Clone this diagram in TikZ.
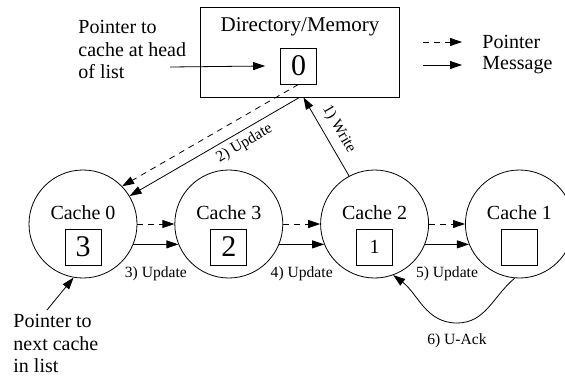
\documentclass[tikz,border=0pt]{standalone}
\usepackage{fontspec}
\setmainfont{Liberation Serif}
\usetikzlibrary{arrows.meta, positioning}

\begin{document}
\begin{tikzpicture}[x=0.5pt, y=-0.5pt]
    % Define styles for the nodes
    \tikzstyle{cache} = [circle, draw, minimum size=54pt, inner sep=0]
    \tikzstyle{slot} = [
        rectangle, draw, minimum width=18pt, minimum height=18pt,
        inner sep=0, font=\fontsize{15}{17}\selectfont
    ]
    \tikzstyle{txt} = [inner sep=0, font=\fontsize{10}{11.3}\selectfont]
    \tikzstyle{lbl} = [inner sep=1pt, font=\fontsize{7.8}{9}\selectfont]

    \tikzstyle{msg} = [-{Triangle[length=6pt, width=4pt]}]
    \tikzstyle{ptr} = [msg, dash pattern=on 3pt off 2.5pt]

    \useasboundingbox (0,0) rectangle (565,375);

    % Directory
    \node[draw, minimum width=99.5pt, minimum height=45pt] (dir) at (299.5,52) {};
    \node[txt, font=\fontsize{10.5}{12}\selectfont] (dir_name) at (300,27) {Directory/Memory};
    \node[slot] (head) at (298.5,66) {0};

    \node[txt, align=left, anchor=north west] (head_txt) at (78,20)
        {Pointer to\\cache at head\\of list};
    \coordinate (head_tail) at (170,67);

    % Legend
    \coordinate (leg_p) at (423,42);
    \coordinate (leg_m) at (423,65);
    \node[txt, anchor=west] (leg_ptr) at (482,42) {Pointer};
    \node[txt, anchor=west] (leg_msg) at (482,65) {Message};

    % Caches
    \node[cache]                     (c0) at (83,224) {};
    \node[cache, right=18.5pt of c0] (c3)             {};
    \node[cache, right=18.5pt of c3] (c2)             {};
    \node[cache, right=18pt of c2]   (c1)             {};

    \node[txt, yshift=5.5pt] (c0_name) at (c0.center) {Cache 0};
    \node[txt, yshift=5.5pt] (c3_name) at (c3.center) {Cache 3};
    \node[txt, yshift=5.5pt] (c2_name) at (c2.center) {Cache 2};
    \node[txt, yshift=5.5pt] (c1_name) at (c1.center) {Cache 1};

    \node[slot, yshift=-11.5pt] (s0) at (c0.center) {3};
    \node[slot, yshift=-11.5pt] (s3) at (c3.center) {2};
    \node[slot, yshift=-11.5pt, font=\fontsize{10}{12}\selectfont] (s2) at (c2.center) {1};
    \node[slot, yshift=-11.5pt] (s1) at (c1.center) {};

    \node[txt, align=left, anchor=north west] (next_txt) at (13,314)
        {Pointer to\\next cache\\in list};
    \coordinate (next_tail) at (47,310);

    \coordinate (ack_low) at (457,323);

    % Legend arrows
    \draw[ptr] (leg_p) -- ([xshift=-10pt]leg_ptr.west);
    \draw[msg] (leg_m) -- ([xshift=-10pt]leg_msg.west);

    % Head pointer
    \draw[msg] (head_tail) -- ([xshift=-7.5pt]head.west);

    % 1) Write
    \draw[msg] (c2.118) -- ([xshift=2pt]dir.south)
        node[lbl, midway, sloped, above, inner sep=3.5pt] {1) Write};

    % 2) Update
    \draw[ptr] (head.south) -- (c0.44);
    \draw[msg] (dir.south) -- (c0.31)
        node[lbl, pos=0.36, sloped, below, inner sep=2.4pt] {2) Update};

    % 3) Update
    \draw[ptr] (c0.0) -- (c3.180);
    \draw[msg] (c0.-22) -- (c3.-158) node[lbl, midway, below=10pt] {3) Update};

    % 4) Update
    \draw[ptr] (c3.0) -- (c2.180);
    \draw[msg] (c3.-22) -- (c2.-158) node[lbl, midway, below=10pt] {4) Update};

    % 5) Update
    \draw[ptr] (c2.0) -- (c1.180);
    \draw[msg] (c2.-22) -- (c1.-158) node[lbl, midway, below=10pt] {5) Update};

    % 6) U-Ack
    \draw[msg] (c1.-95) to[out=220, in=0] (ack_low)
        node[lbl, below, inner sep=5pt] {6) U-Ack}
        to[out=180, in=-37] (c2.-70);

    % Next pointer
    \draw[msg] (next_tail) -- (c0.-100);

\end{tikzpicture}
\end{document}
